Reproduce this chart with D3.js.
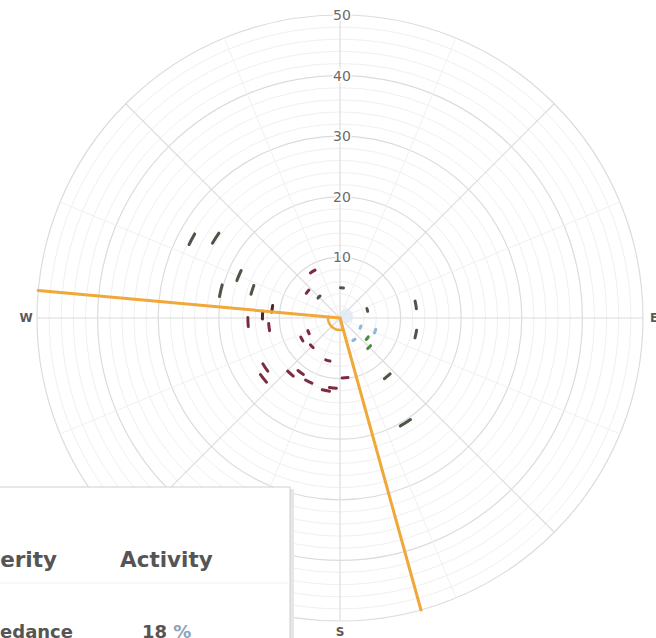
<!DOCTYPE html>
<html>
<head>
<meta charset="utf-8">
<script src="https://cdn.jsdelivr.net/npm/d3@7"></script>
<style>
  html, body { margin: 0; padding: 0; background: #fff; overflow: hidden; }
  .chart { width: 656px; height: 638px; display: block; }
</style>
</head>
<body>
<svg class="chart" width="656" height="638"></svg>
<script>
const svg = d3.select(".chart");
const width = 656;
const height = 638;

// data: direction (deg from north), value, class
const directions = [298, 302.7, 292.8, 282.9, 287.8, 277.7, 272.2, 267.5, 262.7, 329.6,
  309.1, 315, 3.8, 73.5, 80.2, 102, 110.4, 126.5, 135, 147.5,
  245.7, 241.1, 225, 196, 236.5, 231.7, 221.7, 215.8, 206.2, 175.2,
  191, 185.8, 141, 148, 114];
const values = [27.7, 24.4, 18.1, 20.2, 15.2, 11.3, 12.8, 15.2, 11.8, 8.9,
  6.9, 4.9, 5.0, 4.7, 12.7, 12.8, 6.2, 5.6, 6.8, 4.3,
  5.7, 7.2, 6.6, 7.3, 14.8, 16.1, 12.3, 11.1, 11.7, 9.9,
  12.2, 11.6, 12.4, 20.4, 3.7];
const classes = ["high", "high", "high", "high", "high", "dark", "dark", "severe", "severe", "severe",
  "severe", "high", "high", "high", "high", "high", "low", "medium", "medium", "low",
  "severe", "severe", "severe", "severe", "severe", "severe", "severe", "severe", "severe", "severe",
  "severe", "severe", "high", "high", "low"];

const classNames = ["low", "medium", "high", "dark", "severe"];
const classColors = ["#8fb6dc", "#4f8a46", "#4d5547", "#4a2630", "#7c2c40"];

// sector bounded by the two orange lines (deg)
const sectorBounds = [164.5, 275.2];

const radialTicks = [10, 20, 30, 40, 50];
const compass = [
  { label: "E", angle: 90 },
  { label: "S", angle: 180 },
  { label: "W", angle: 270 },
];

const cx = 340;
const cy = 318;
const outerR = 303;

const r = d3.scaleLinear().domain([0, 50]).range([0, outerR]);
const color = d3.scaleOrdinal().domain(classNames).range(classColors);
const rad = (deg) => (deg * Math.PI) / 180;

const g = svg.append("g").attr("transform", `translate(${cx}, ${cy})`);

// rings: minor every 2, major every 10
const rings = d3.range(2, 51, 2);
g.append("g")
  .selectAll("circle")
  .data(rings)
  .enter()
  .append("circle")
  .attr("r", (d) => r(d))
  .attr("fill", "none")
  .attr("stroke", (d) => (d % 10 === 0 ? "#dcdcdc" : "#f0f0f0"))
  .attr("stroke-width", (d) => (d % 10 === 0 ? 1.2 : 1));

// spokes
const spokes = d3.range(0, 360, 22.5);
g.append("g")
  .selectAll("line")
  .data(spokes)
  .enter()
  .append("line")
  .attr("x1", 0)
  .attr("y1", 0)
  .attr("x2", (d) => outerR * Math.sin(rad(d)))
  .attr("y2", (d) => -outerR * Math.cos(rad(d)))
  .attr("stroke", (d) => (d % 45 === 0 ? "#dcdcdc" : "#f0f0f0"))
  .attr("stroke-width", (d) => (d % 45 === 0 ? 1.2 : 1));

// calm circle
g.append("circle")
  .attr("cx", 6)
  .attr("cy", -2)
  .attr("r", 7)
  .attr("fill", "#dfe9f4")
  .attr("opacity", 0.8);

// radial tick labels along north
g.append("g")
  .selectAll("text")
  .data(radialTicks)
  .enter()
  .append("text")
  .attr("x", 2)
  .attr("y", (d) => -r(d))
  .attr("dy", "0.35em")
  .attr("text-anchor", "middle")
  .attr("font-family", "DejaVu Sans, sans-serif")
  .attr("font-size", 14)
  .attr("fill", "#6a6a6a")
  .attr("stroke", "#fff")
  .attr("stroke-width", 3)
  .attr("paint-order", "stroke")
  .text((d) => d);

// compass labels
g.append("g")
  .selectAll("text")
  .data(compass)
  .enter()
  .append("text")
  .attr("x", (d) => (outerR + 11) * Math.sin(rad(d.angle)))
  .attr("y", (d) => -(outerR + 11) * Math.cos(rad(d.angle)))
  .attr("dy", "0.35em")
  .attr("text-anchor", "middle")
  .attr("font-family", "DejaVu Sans, sans-serif")
  .attr("font-size", 12)
  .attr("font-weight", "bold")
  .attr("fill", "#5a5a5a")
  .text((d) => d.label);

// data marks: short tangential arcs
const points = directions.map((d, i) => ({ dir: d, value: values[i], cls: classes[i] }));
const markArc = d3.arc();

g.append("g")
  .selectAll("path")
  .data(points)
  .enter()
  .append("path")
  .attr("d", (d) => {
    const rr = r(d.value);
    const len = Math.max(2.5, Math.min(12, rr * 0.1));
    const half = len / 2 / rr;
    return markArc({
      innerRadius: rr,
      outerRadius: rr,
      startAngle: rad(d.dir) - half,
      endAngle: rad(d.dir) + half,
    });
  })
  .attr("fill", "none")
  .attr("stroke", (d) => color(d.cls))
  .attr("stroke-width", 3)
  .attr("stroke-linecap", "round")
  .attr("stroke-linejoin", "round");

// orange sector lines
const orange = "#f0a838";
g.append("g")
  .selectAll("line")
  .data(sectorBounds)
  .enter()
  .append("line")
  .attr("x1", 0)
  .attr("y1", 0)
  .attr("x2", (d) => outerR * Math.sin(rad(d)))
  .attr("y2", (d) => -outerR * Math.cos(rad(d)))
  .attr("stroke", orange)
  .attr("stroke-width", 3)
  .attr("stroke-linecap", "round");

g.append("path")
  .attr(
    "d",
    d3.arc()({
      innerRadius: 12,
      outerRadius: 12,
      startAngle: rad(sectorBounds[0]),
      endAngle: rad(sectorBounds[1]),
    })
  )
  .attr("fill", "none")
  .attr("stroke", orange)
  .attr("stroke-width", 2.5);

// legend table box
const legend = svg.append("g");
legend
  .append("rect")
  .attr("x", -8)
  .attr("y", 489)
  .attr("width", 302)
  .attr("height", 200)
  .attr("fill", "#e6e6e6");
legend
  .append("rect")
  .attr("x", -8)
  .attr("y", 487)
  .attr("width", 298)
  .attr("height", 200)
  .attr("fill", "#fff")
  .attr("stroke", "#cfcfcf")
  .attr("stroke-width", 1);

const headers = ["Severity", "Activity"];
const rowLabels = ["Exceedance"];
const rowValues = ["18"];

legend
  .append("text")
  .attr("x", 57)
  .attr("y", 567)
  .attr("text-anchor", "end")
  .attr("font-family", "DejaVu Sans, sans-serif")
  .attr("font-size", 21.5)
  .attr("font-weight", "bold")
  .attr("fill", "#555")
  .text(headers[0]);
legend
  .append("text")
  .attr("x", 120)
  .attr("y", 567)
  .attr("font-family", "DejaVu Sans, sans-serif")
  .attr("font-size", 21.5)
  .attr("font-weight", "bold")
  .attr("fill", "#555")
  .text(headers[1]);

legend
  .append("line")
  .attr("x1", -8)
  .attr("x2", 290)
  .attr("y1", 583)
  .attr("y2", 583)
  .attr("stroke", "#f2f2f2");

legend
  .append("text")
  .attr("x", 73)
  .attr("y", 638)
  .attr("text-anchor", "end")
  .attr("font-family", "DejaVu Sans, sans-serif")
  .attr("font-size", 18)
  .attr("font-weight", "bold")
  .attr("fill", "#555")
  .text(rowLabels[0]);

const valText = legend
  .append("text")
  .attr("x", 142)
  .attr("y", 638)
  .attr("font-family", "DejaVu Sans, sans-serif")
  .attr("font-size", 18)
  .attr("font-weight", "bold")
  .attr("fill", "#555");
valText.append("tspan").text(rowValues[0] + " ");
valText.append("tspan").attr("fill", "#8ea3b8").text("%");
</script>
</body>
</html>
